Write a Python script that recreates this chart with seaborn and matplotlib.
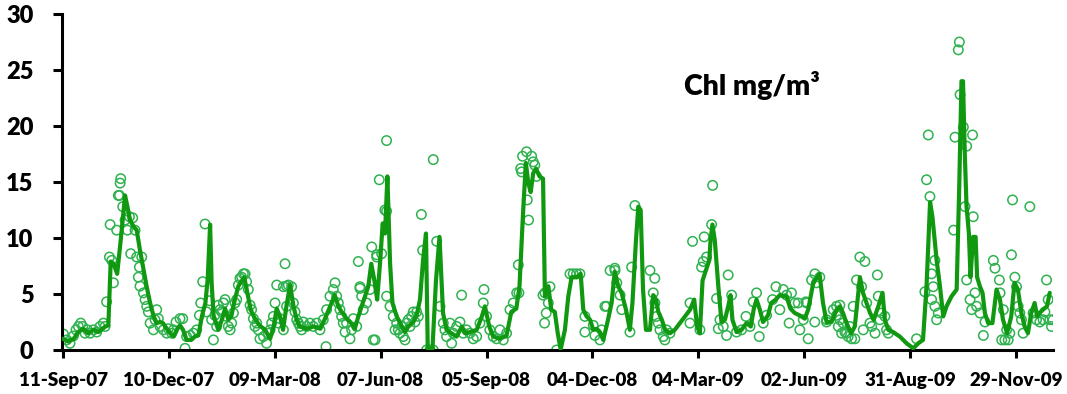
import matplotlib
matplotlib.use("Agg")
import matplotlib.pyplot as plt
import numpy as np
import pandas as pd
import seaborn as sns

START = pd.Timestamp("2007-09-11")

# Smoothed chlorophyll series: days since 11-Sep-07, concentration (mg/m3)
line_days = [0, 4.5, 9, 13, 17, 21.5, 26, 30, 33, 36, 38.5, 40.5, 43, 46, 49, 52.7, 54.7, 57, 60, 62.6,
             65.4, 68, 71, 74, 77, 79.6, 82.4, 85, 88, 91, 94, 96.6, 99.4, 102, 105, 109, 112, 115, 118, 121,
             123, 125, 126.3, 128, 132, 135, 137.7, 140.5, 143, 146, 149, 154, 156.7, 159.5, 163, 167, 171.7,
             176, 179, 181.6, 184.4, 187, 190, 193, 195.9, 198.6, 201, 207, 213, 218.7, 222.7, 227, 231, 234,
             236.8, 241, 245, 248, 251, 253.8, 256.7, 259.5, 262, 265, 267, 269.4, 271.7, 273.7, 275.7, 278,
             280, 283.6, 288, 290.7, 293.5, 297.8, 300.6, 303.4, 306, 308.5, 310, 314, 317, 320, 323, 326,
             330, 334.6, 339, 341.7, 346, 351.6, 356, 358.6, 362.3, 365.7, 371.6, 377, 381, 385.3, 388, 391,
             393.4, 395.5, 397.5, 399.7, 402, 405, 408, 409.6, 412.5, 415, 418, 420.5, 423, 426.6, 429.5,
             432.3, 436.5, 440, 442.2, 445, 448, 450.7, 453.6, 456.4, 459.2, 462.6, 466.3, 469, 471.9, 474.8,
             478.5, 481.8, 484, 487, 489, 491, 493, 495.5, 498.9, 501.7, 504, 506, 509, 511.8, 516, 520,
             524.4, 528.7, 533, 536.5, 539, 541.3, 543.6, 546.4, 549.3, 550.4, 552, 554, 557, 559.7, 562.6,
             565.4, 567.4, 569, 572.5, 576.7, 581, 584.6, 587.2, 589.5, 592.3, 595, 599.3, 602, 605.8, 609.2,
             612, 614.9, 618.3, 622, 626, 630.5, 633.4, 637.7, 643, 646, 649, 653.3, 657.5, 660.4, 663, 666,
             670, 673, 677.4, 680, 683, 686, 689, 693, 696.6, 698.6, 701.5, 705.6, 711.3, 717, 722.7, 727,
             731, 734, 737, 739, 742.6, 745.4, 748.2, 751, 755.3, 759.6, 761.8, 763.7, 765, 766.5, 768, 770,
             771.4, 773.6, 775.7, 777, 779.3, 781.6, 783.6, 786.4, 790, 793.5, 796.4, 799, 802.5, 806, 808.8,
             811.7, 814.6, 817.4, 820.2, 823, 825.9, 828, 830, 833, 836.4, 838.7]
line_chl = [1.0, 0.75, 1.0, 1.6, 1.9, 1.5, 1.8, 1.6, 1.85, 2.1, 2.2, 7.9, 7.7, 6.8, 9.8, 13.8, 12.8, 11.6, 11.0, 10.7,
            8.9, 7.4, 5.7, 4.2, 3.0, 2.4, 2.5, 2.4, 1.9, 1.5, 1.2, 1.8, 2.2, 1.8, 0.9, 0.9, 1.2, 1.3, 3.0, 4.2,
            6.4, 11.2, 6.0, 3.0, 1.8, 2.7, 3.7, 2.7, 3.0, 4.5, 5.7, 6.5, 5.1, 3.6, 2.8, 2.2, 1.8,
            1.0, 2.1, 3.7, 3.0, 1.8, 4.0, 5.8, 3.9, 2.7, 2.1, 1.9, 2.1, 1.9, 2.8, 3.9, 4.9, 3.9,
            3.4, 2.8, 2.4, 1.9, 3.0, 3.9, 4.8, 5.7, 7.7, 6.0, 4.5, 7.7, 11.3, 10.4, 15.5, 7.7,
            4.2, 3.0, 2.1, 1.6, 2.1, 2.5, 3.1, 4.5, 8.0, 10.4, 0.1, 0.1, 6.2, 10.1, 3.3, 1.8,
            1.5, 1.2, 2.1, 1.5, 1.6, 1.8, 3.0, 3.9, 2.1, 1.2, 1.0, 1.3, 3.4, 3.7, 5.7, 12.2,
            16.7, 14.9, 14.1, 15.8, 16.2, 15.5, 15.3, 4.8, 5.7, 3.6, 3.4, 1.5, 0.05, 1.8, 4.8,
            6.5, 6.5, 6.8, 3.6, 3.0, 2.7, 1.8, 1.9, 1.6, 0.9, 2.4, 4.2, 7.0, 5.7, 5.1,
            3.6, 1.8, 4.2, 9.8, 12.8, 12.5, 5.4, 1.8, 1.8, 4.9, 4.5, 3.4, 2.7, 1.8, 1.5, 1.8,
            2.4, 3.0, 3.6, 4.5, 2.1, 1.5, 6.2, 7.1, 8.0, 9.8, 11.2, 9.8, 5.7, 2.5, 2.7,
            3.9, 4.9, 2.7, 1.6, 1.8, 2.4, 2.1, 3.7, 4.5, 3.6, 2.5, 3.1, 4.2, 4.5, 4.9,
            4.8, 4.8, 3.7, 3.3, 3.1, 2.8, 3.6, 6.0, 6.8, 4.2, 2.5, 2.5, 3.6, 3.9, 3.3, 2.4,
            1.5, 2.1, 6.5, 5.1, 4.2, 3.3, 2.7, 3.9, 5.1, 2.7, 1.8, 1.6, 1.2, 0.6, 0.15, 0.6,
            0.9, 5.7, 13.2, 11.9, 8.0, 5.7, 3.0, 3.9, 4.8, 5.4, 14.6, 24.0, 24.0, 17.6, 12.8, 10.4,
            6.5, 10.1, 10.1, 6.5, 5.7, 5.1, 3.3, 2.4, 2.4, 5.4, 4.5, 2.7, 1.5, 3.0, 6.0,
            5.4, 3.3, 2.1, 1.5, 3.3, 4.2, 3.0, 3.3, 3.6, 3.9, 5.1]

# Individual observations: days since 11-Sep-07, concentration (mg/m3)
obs_days = [0.3, 3.1, 5.9, 8.8, 11, 13, 15, 16.7, 18.7, 20.7, 23, 25.8, 28.6, 31.4, 34.3, 35.7, 37, 39.4, 41.4,
            42.8, 40, 45.6, 49, 48.5, 47, 48, 50.7, 52.7, 54.7, 56.4, 59.2, 61.2, 57.5, 62.6, 64.9, 66.9, 64,
            65.4, 68.3, 69.7, 71.1, 72.5, 74, 76.8, 78.2, 79.6, 81, 82.4, 85.3, 88.1, 89.5, 92.4, 93.8, 96,
            99.4, 101.7, 103.7, 105, 108, 110.8, 113.6, 115.9, 117, 118.7, 120.7, 122, 124.4, 126.3, 127.8,
            129, 130.6, 132, 133.4, 134.8, 136.3, 137.7, 139, 140.5, 142, 143.3, 144.8, 146.2, 147.6, 149,
            150.4, 151.8, 153.3, 154.7, 156, 157.5, 159, 160.3, 161.8, 163.2, 164.6, 166, 167.4, 170.3, 173,
            174.5, 176, 177.3, 178.8, 180.2, 181.6, 183, 184.4, 187.3, 188.7, 190,
            187.3, 190, 191.5, 194.3, 195.8, 197.2, 198.6, 200, 201.4, 202.8, 204.2, 207, 209.9, 212.7,
            215.6, 218.4, 221.2, 223.5, 224, 226.9, 229.7, 231.2, 232.6, 234, 235.4, 236.8, 238.2, 239.7,
            241, 243.9, 245.3, 246.7, 249.6, 251, 252.4, 253.8, 255.2, 258, 260.9, 262.4, 265.2, 266.6,
            268.8, 273.6, 275, 275, 277.9, 280.7, 282.2, 283.6, 285, 286.4, 287.8, 289.2, 290.7, 292,
            293.5, 294.9, 296.3, 297.7, 299.2, 300.6, 302, 304.6, 305.7, 309, 311.9, 314.7, 314.7, 317.6,
            320.4, 323.2, 324.6, 326, 328.9, 330.3, 331.7, 334.6, 337.4, 338.8, 340.2, 343, 345.9, 348.7,
            351.6, 354.4, 357.2, 357.8, 360, 362.8, 365.7, 368.5, 371.4, 374.2, 377, 379.9, 382.7, 385.6,
            387, 390.6, 389, 389.8, 394, 398.3, 399.7, 401, 402.5, 394.6, 395.7, 387.5, 409.6, 412.5,
            413.9, 408, 409.3, 410.7, 275, 266.6, 270.8, 252.4, 263.7,
            419.5, 430.9, 433.7, 436.5, 439.4, 443.6, 443.6, 450.7, 452.1, 456.4, 457.8, 460.6, 465, 469.2,
            470.7, 473.5, 474.9, 481.9, 483.3, 486.1, 498.9, 503, 501.7, 503.1, 504.5, 506, 507.4, 510.2,
            511.6, 513, 515.9, 532.9, 532.9, 535.1, 541.4, 542.8, 544.2, 545, 547, 551.3, 552.2, 555.5,
            557, 558.4, 561.2, 564, 565.4, 568.3, 572.5, 576.8, 580.5, 583.9, 586.7, 589.5, 591.8, 595.2,
            598, 603.1, 606, 609.3, 612.2, 615, 617.2, 619.2, 622.1, 624.9, 626.3, 631.4, 633.4, 636.3,
            639.1, 640.5, 643.3, 649, 657.5, 660.3, 663.1, 666, 667.4, 462, 469,
            629.2, 632, 639, 649, 654.7, 657.5, 660.3, 659, 661.8, 664.6, 668.8, 670.3, 673.1, 671.7,
            674.5, 677.3, 681.6, 678.8, 683.1, 680.2, 685.9, 687.4, 690.2, 692.2, 693, 694.4, 695.8, 698.6,
            700, 701.5, 725.5, 732.6, 734, 735.5, 736.9, 738.3, 741.1, 739.7, 738.3, 741.1, 744, 742.6,
            757, 758.2, 761, 761.9, 762.5, 765.3, 768.1, 766.7, 773.1, 773.7, 768.1, 771, 775.2, 772.4,
            776.6, 779.5, 782.3, 783.7, 790.8, 792.2, 795.9, 796.5, 799.3, 802.1, 797.9, 800.6, 803.4,
            804.8, 807.1, 806.2, 809.1, 810.5, 811.9, 813.3, 814.7, 816.1, 821.8, 824.6, 827.5, 830.3,
            833.1, 834.6, 836, 837.4, 838.8, 840.2, 841.6]
obs_chl = [1.43, 0.9, 0.6, 1.25, 1.8, 2.1, 2.4, 2.1, 1.5, 1.8, 1.5, 1.8, 1.6, 2.1, 2.4, 2.1, 4.3, 8.3, 8.0,
           6.0, 11.2, 10.7, 15.3, 14.9, 13.8, 13.8, 12.8, 11.6, 10.7, 11.9, 11.8, 10.7, 8.6, 8.3, 7.4, 8.3, 6.5,
           5.7, 5.1, 4.5, 3.9, 3.4, 2.4, 1.8, 2.7, 3.6, 2.8, 2.1, 1.8, 1.5, 1.9, 1.5, 1.8, 2.5,
           2.8, 2.8, 0.15, 1.2, 1.3, 1.5, 1.8, 3.1, 4.2, 6.1, 11.25, 3.4, 4.4, 2.7, 0.9,
           3.1, 2.1, 4.0, 3.6, 3.4, 4.2, 4.5, 3.0, 2.1, 1.8, 2.4, 3.3, 4.2, 4.5, 5.8,
           6.4, 6.5, 6.8, 6.8, 6.1, 5.4, 4.0, 3.6, 2.8, 2.1, 2.4, 1.8, 1.0, 1.2, 0.6,
           1.5, 1.8, 2.4, 3.0, 4.2, 5.8, 2.4, 2.8, 1.8, 7.7, 5.7,
           5.65, 3.9, 5.8, 5.65, 4.2, 3.4, 2.7, 2.4, 2.1, 1.8, 2.5, 2.1, 2.4, 2.1,
           2.4, 1.8, 2.7, 0.3, 3.6, 4.8, 5.4, 6.0, 4.8, 4.2, 3.6, 3.0, 2.4, 1.6,
           2.4, 1.0, 1.8, 2.8, 2.1, 7.9, 5.65, 4.8, 3.6, 4.2, 5.4, 9.2, 0.9, 8.5,
           15.2, 12.5, 18.7, 4.8, 3.9, 3.0, 1.8, 2.4, 1.8, 1.5, 2.1, 1.2, 0.9, 2.4,
           2.7, 2.1, 3.0, 3.4, 2.5, 3.4, 3.0, 12.1, 8.9, 0.0, 0.0, 0.0, 17.0, 9.7,
           3.9, 2.4, 1.8, 1.2, 2.4, 0.6, 1.5, 2.1, 2.5, 4.9, 1.5, 1.8, 1.5, 1.0,
           1.2, 2.4, 4.2, 5.4, 3.0, 1.8, 1.2, 1.0, 1.8, 0.9, 1.5, 3.6, 4.2, 5.1,
           7.6, 17.3, 16.2, 15.9, 17.7, 17.3, 16.8, 16.5, 15.5, 13.4, 11.6, 5.1, 5.1, 4.2,
           5.65, 4.9, 2.4, 3.3, 12.4, 8.3, 8.6, 5.5, 0.9,
           0.0, 6.8, 6.8, 6.8, 6.8, 3.0, 1.6, 2.2, 1.3, 0.9, 1.8, 3.9, 7.1, 7.1,
           6.0, 4.9, 3.6, 1.6, 7.4, 12.9, 7.1, 6.4, 5.1, 4.2, 3.0, 2.4, 1.8, 1.2,
           0.9, 1.8, 1.5, 4.2, 2.4, 9.7, 1.8, 7.4, 7.9, 10.1, 8.3, 11.2, 14.7, 4.6,
           1.9, 2.7, 2.1, 1.3, 6.7, 4.9, 1.6, 1.8, 3.0, 2.1, 4.3, 5.1, 1.2, 2.4,
           3.1, 4.5, 5.65, 3.6, 5.4, 4.9, 2.4, 5.1, 4.2, 4.2, 1.8, 4.3, 1.0, 6.25,
           6.8, 6.0, 6.5, 2.7, 3.1, 4.0, 2.4, 1.5, 1.2, 3.9, 7.3,
           2.7, 4.2, 2.5, 2.5, 3.6, 3.9, 2.7, 2.1, 1.5, 1.6, 2.1, 1.0, 1.0, 3.9,
           6.25, 8.3, 7.9, 5.65, 4.2, 1.8, 2.4, 2.1, 1.5, 6.7, 4.8, 2.7, 3.3, 3.0,
           1.8, 1.5, 1.0, 5.2, 15.2, 19.2, 13.7, 6.8, 8.0, 5.65, 4.5, 3.9, 3.3, 2.7,
           10.7, 19.0, 26.8, 27.5, 22.8, 19.9, 18.2, 12.8, 19.2, 11.9, 6.25, 4.5, 5.1, 3.6,
           3.9, 3.3, 1.3, 2.5, 8.0, 7.3, 6.25, 5.1, 3.6, 1.8, 0.9, 0.9, 0.9,
           1.5, 13.4, 8.5, 6.5, 5.65, 3.9, 3.3, 2.7, 1.5, 12.8, 3.3, 2.7, 2.5,
           2.7, 3.4, 6.25, 4.5, 2.7, 2.1, 2.7]

tick_labels = ["11-Sep-07", "10-Dec-07", "09-Mar-08", "07-Jun-08", "05-Sep-08",
               "04-Dec-08", "04-Mar-09", "02-Jun-09", "31-Aug-09", "29-Nov-09"]
y_ticks = [0, 5, 10, 15, 20, 25, 30]

line_df = pd.DataFrame({"date": START + pd.to_timedelta(line_days, unit="D"), "chl": line_chl})
obs_df = pd.DataFrame({"date": START + pd.to_timedelta(obs_days, unit="D"), "chl": obs_chl})

sns.set_theme(style="white")
plt.rcParams["font.family"] = ["Lato", "DejaVu Sans"]

fig = plt.figure(figsize=(10.67, 3.94), dpi=100)
ax = fig.add_axes([62 / 1067, 1 - 350 / 394, (1053 - 62) / 1067, (350 - 14) / 394])

sns.scatterplot(data=obs_df, x="date", y="chl", ax=ax, marker="o", s=46,
                facecolors="none", edgecolor="#2fb24f", linewidth=1.1, zorder=2)
sns.lineplot(data=line_df, x="date", y="chl", ax=ax, color="#109810", linewidth=3.0,
             zorder=3, estimator=None)

ax.set_ylim(0, 30)
ax.set_xlim(START - pd.Timedelta(days=0.9), START + pd.Timedelta(days=841.5))
ax.set_yticks(y_ticks)
ax.set_yticklabels([str(v) for v in y_ticks], fontsize=17, fontweight="heavy")
tick_dates = [pd.to_datetime(t, format="%d-%b-%y") for t in tick_labels]
ax.set_xticks(tick_dates)
ax.set_xticklabels(tick_labels, fontsize=13.5, fontweight="heavy")
ax.set_xlabel("")
ax.set_ylabel("")

for side in ["top", "right"]:
    ax.spines[side].set_visible(False)
for side in ["left", "bottom"]:
    ax.spines[side].set_color("black")
    ax.spines[side].set_linewidth(2.2)
ax.tick_params(axis="y", which="major", left=True, length=6.5, width=2.2, color="black",
               pad=14, labelcolor="black")
ax.tick_params(axis="x", which="major", bottom=True, length=5.5, width=2.2, color="black",
               pad=10, labelcolor="black")

fig.text(684 / 1067, 1 - 86 / 394, "Chl mg/m³", fontsize=20.5, fontweight="heavy",
         color="black", ha="left", va="center")

fig.savefig("out.png", dpi=100)
